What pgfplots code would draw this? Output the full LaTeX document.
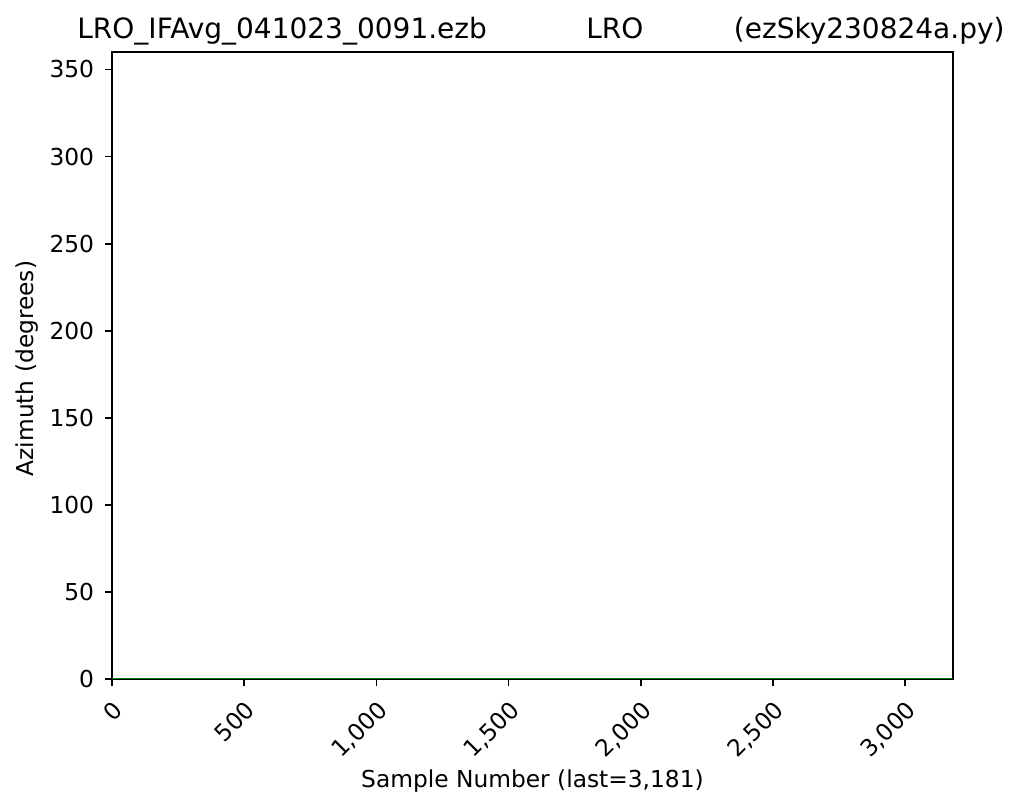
\documentclass[border=0pt]{standalone}
\usepackage{fontspec}
\setmainfont{DejaVu Sans}
\usepackage{graphicx}
\usepackage{pgfplots}
\pgfplotsset{compat=1.18}
\definecolor{mplgreen}{rgb}{0,0.5,0}
\begin{document}
\begin{tikzpicture}[font=\fontsize{10.7}{13}\selectfont]
\begin{axis}[
  scale only axis, width=385.8pt, height=287.6pt,
  xmin=0, xmax=3181, ymin=0, ymax=360,
  xtick={0,500,...,3000}, ytick={0,50,...,350},
  tick align=outside, major tick length=3.45pt,
  xtick pos=bottom, ytick pos=left,
  axis line style={line width=0.8pt},
  tick style={line width=0.8pt, black},
  /pgf/number format/assume math mode=true,
  /pgf/number format/1000 sep={,},
  xticklabel={\pgfmathprintnumber{\tick}},
  yticklabel={\pgfmathprintnumber{\tick}},
  tick label style={font=\fontsize{10.7}{13}\selectfont},
  x tick label style={yshift=-5.7pt, rotate=45, anchor=north east, inner sep=0pt},
  y tick label style={anchor=east, inner sep=0pt, xshift=-4.6pt},
]
\addplot[mplgreen, line width=1pt] coordinates {
  (0,0) (500,0) (1000,0) (1500,0) (2000,0) (2500,0) (3000,0) (3181,0)
};
\coordinate (sw) at (rel axis cs:0,0);
\coordinate (ne) at (rel axis cs:1,1);
\coordinate (nw) at (rel axis cs:0,1);
\coordinate (yl) at (rel axis cs:0,0.5);
\coordinate (xl) at (rel axis cs:0.5,0);
\coordinate (tc) at (rel axis cs:0.598,1);
\end{axis}
\node[anchor=base west, inner sep=0pt, font=\fontsize{12.85}{15}\selectfont] at ([xshift=-16.1pt,yshift=6.4pt]nw) {LRO\_IFAvg\_041023\_0091.ezb};
\node[anchor=base, inner sep=0pt, font=\fontsize{12.85}{15}\selectfont] at ([yshift=6.4pt]tc) {LRO};
\node[anchor=base east, inner sep=0pt, font=\fontsize{12.85}{15}\selectfont] at ([xshift=23.9pt,yshift=6.4pt]ne) {(ezSky230824a.py)};
\node[rotate=90, inner sep=0pt] at ([xshift=-38.8pt,yshift=-1.4pt]yl) {Azimuth (degrees)};
\node[anchor=base, inner sep=0pt] at ([yshift=-50pt]xl) {Sample Number (last=3,181)};
\path (sw) ++(-51.4pt,-60.1pt) coordinate (bba);
\path (ne) ++(32.6pt,23.9pt) coordinate (bbb);
\pgfresetboundingbox
\path (bba) rectangle (bbb);
\end{tikzpicture}
\end{document}
